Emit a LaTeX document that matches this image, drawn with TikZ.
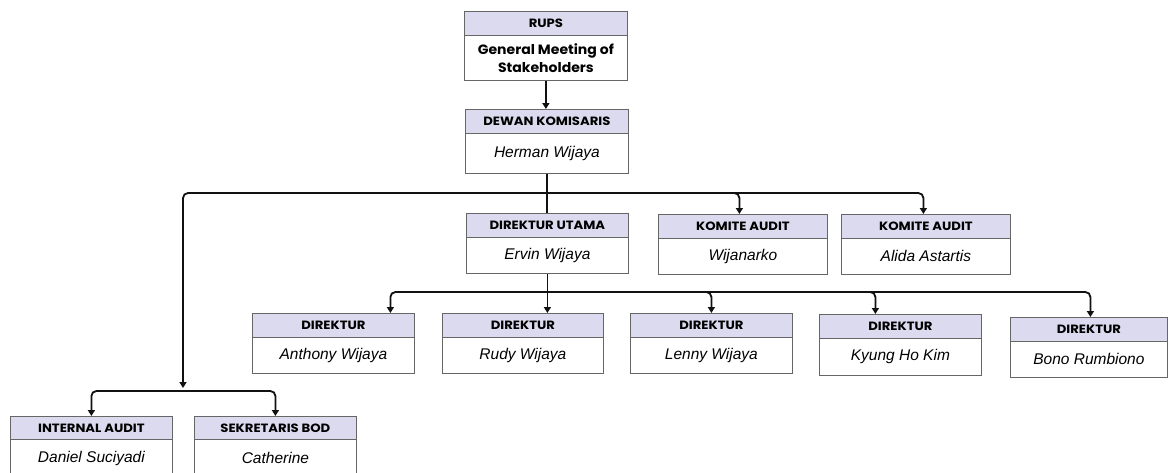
\documentclass[tikz,border=0pt]{standalone}
\usepackage{fontspec}
\setmainfont{Liberation Sans}
\newfontfamily\hdfont{Poppins}[FakeStretch=1.1]
\newfontfamily\bigfont{Poppins}[FakeStretch=1.04]
\usetikzlibrary{arrows.meta}
\definecolor{hdfill}{HTML}{DCDAEE}
\definecolor{bordergray}{HTML}{666666}
\definecolor{linecol}{HTML}{111111}
\newcommand\orgbox[9][]{%
  \node[hd, minimum width={(#4-#3)*1pt}, minimum height={(#6-#5)*1pt}] (#2-h) at (#3,#5) {#8};
  \node[bd, minimum width={(#4-#3)*1pt}, minimum height={(#7-#6)*1pt}, #1] (#2) at (#3,#6) {#9};
}
\begin{document}
\begin{tikzpicture}[x=1pt,y=-1pt,
  hd/.style={draw=bordergray, fill=hdfill, line width=0.8pt, inner sep=0pt, anchor=north west,
    font=\hdfont\bfseries\fontsize{12}{14}\selectfont, text=black},
  bd/.style={draw=bordergray, fill=white, line width=0.8pt, inner sep=0pt, anchor=north west,
    font=\itshape\fontsize{15.5}{18}\selectfont, align=center, text=black},
  bigbold/.style={font=\bigfont\bfseries\fontsize{13.5}{18}\selectfont},
  conn/.style={draw=linecol, line width=1.8pt},
  arr/.style={conn, rounded corners=5pt, -{Triangle[width=7pt,length=6pt]}}]
\fill[white] (0,0) rectangle (1168,472);
\useasboundingbox (0,0) rectangle (1168,472);
% boxes
\orgbox[bigbold]{rups}{464}{627}{11}{35}{80}{RUPS}{General Meeting of\\Stakeholders}
\orgbox{dewan}{465}{628}{109}{133}{173}{DEWAN KOMISARIS}{Herman Wijaya}
\orgbox{du}{466}{628}{213}{237}{273}{DIREKTUR UTAMA}{Ervin Wijaya}
\orgbox{ka}{658}{827}{214}{238}{274}{KOMITE AUDIT}{Wijanarko}
\orgbox{kb}{841}{1010}{214}{238}{274}{KOMITE AUDIT}{Alida Astartis}
\orgbox{anth}{252}{414}{313}{337}{373}{DIREKTUR}{Anthony Wijaya}
\orgbox{rudy}{442}{603}{313}{337}{373}{DIREKTUR}{Rudy Wijaya}
\orgbox{lenny}{630}{792}{313}{337}{373}{DIREKTUR}{Lenny Wijaya}
\orgbox{kyung}{819}{981}{314}{338}{375}{DIREKTUR}{Kyung Ho Kim}
\orgbox{bono}{1010}{1167}{317}{341}{377}{DIREKTUR}{Bono Rumbiono}
\orgbox{ia}{10}{172}{416}{439}{477}{INTERNAL AUDIT}{Daniel Suciyadi}
\orgbox{sek}{194}{356}{416}{439}{477}{SEKRETARIS BOD}{Catherine}
% junction points
\coordinate (bus) at (547,193);
\coordinate (lft) at (183,388);
\coordinate (sub) at (183,391);
\coordinate (dbus) at (547,292);
% connectors
\draw[arr, rounded corners=0pt] (rups.south) -- (rups.south |- dewan-h.north);
\draw[conn] (dewan.south) -- (dewan.south |- du-h.north);
\draw[arr] (bus) -| (lft);
\draw[arr] (bus) -| ([xshift=-3.5pt]ka-h.north);
\draw[arr] (bus) -| ([xshift=-2.5pt]kb-h.north);
\draw[arr, rounded corners=0pt] (du.south) -- (du.south |- rudy-h.north);
\draw[arr] (dbus) -| ([xshift=57pt]anth-h.north);
\draw[arr] (dbus) -| (lenny-h.north);
\draw[arr] (dbus) -| ([xshift=-25pt]kyung-h.north);
\draw[arr] (dbus) -| ([xshift=1.5pt]bono-h.north);
\draw[arr] (sub) -| (ia-h.north);
\draw[arr] (sub) -| (sek-h.north);
\end{tikzpicture}
\end{document}
